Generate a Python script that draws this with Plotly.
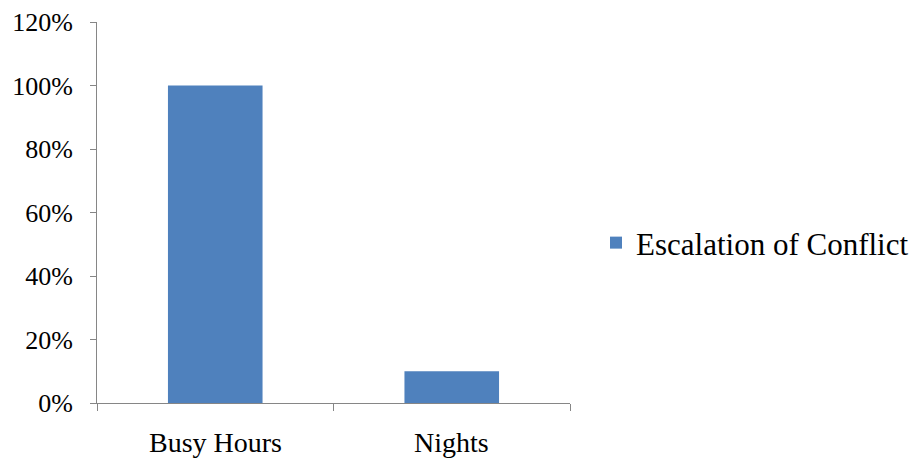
import plotly.graph_objects as go

categories = ["Busy Hours", "Nights"]
values = [1.00, 0.10]
series_name = "Escalation of Conflict"
ytick_vals = [0, 0.2, 0.4, 0.6, 0.8, 1.0, 1.2]
ytick_text = ["0%", "20%", "40%", "60%", "80%", "100%", "120%"]

font_family = "Liberation Serif, Times New Roman, serif"
axis_color = "#868686"

fig = go.Figure()
fig.add_trace(go.Bar(
    x=categories, y=values, name=series_name,
    marker=dict(color="#4F81BD", line=dict(width=0)),
    width=0.4, showlegend=True,
))

fig.update_layout(
    width=919, height=459,
    margin=dict(l=97, r=349, t=22, b=56, autoexpand=False),
    paper_bgcolor="white", plot_bgcolor="white",
    font=dict(family=font_family, size=26, color="black"),
    showlegend=True,
    legend=dict(x=1.055, y=0.42, xanchor="left", yanchor="middle",
                font=dict(size=31), itemsizing="constant",
                bgcolor="rgba(0,0,0,0)"),
    xaxis=dict(
        showline=True, linecolor=axis_color, linewidth=1,
        ticks="outside", ticklen=7, tickcolor=axis_color,
        tickmode="array", tickvals=[-0.5, 0.5, 1.5], ticktext=["", "", ""],
        showgrid=False, range=[-0.5, 1.5], automargin=False,
    ),
    yaxis=dict(
        showline=True, linecolor=axis_color, linewidth=1,
        ticks="outside", ticklen=6, tickcolor=axis_color,
        tickvals=ytick_vals, ticktext=ytick_text,
        range=[0, 1.2], showgrid=False, zeroline=False,
        ticklabelstandoff=12, automargin=False,
    ),
)

for i, c in enumerate(categories):
    fig.add_annotation(x=i, y=0, xref="x", yref="y", text=c, showarrow=False,
                       yanchor="top", yshift=-22, font=dict(size=28))

fig.write_html("out.html")
